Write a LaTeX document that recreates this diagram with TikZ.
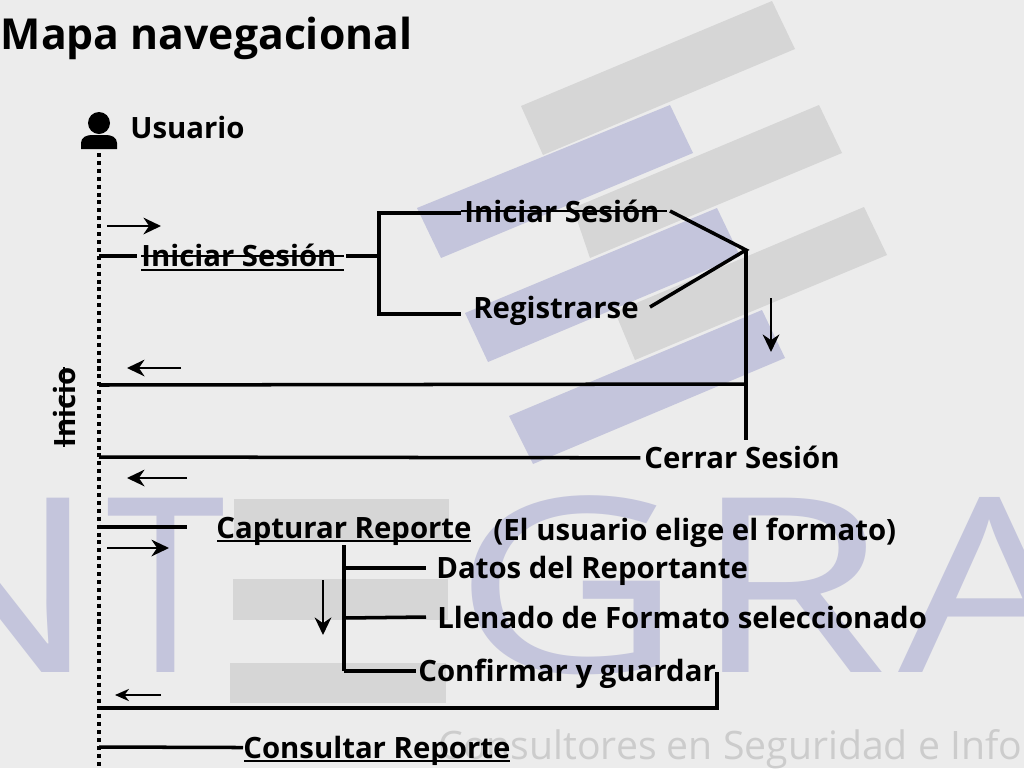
\documentclass[tikz,border=0pt]{standalone}
\usepackage{fontspec}
\setmainfont{Open Sans}
\usepackage{tikz}
\usetikzlibrary{arrows.meta, positioning}

\definecolor{fondo}{HTML}{ECECEC}
\definecolor{barragris}{HTML}{D6D6D6}
\definecolor{barraazul}{HTML}{C4C5DC}
\definecolor{textogris}{HTML}{CCCCCC}

\tikzset{
	linea/.style={line width=2pt},
	fina/.style={line width=1pt},
	flecha/.style={line width=1.2pt, -{Stealth[length=10pt, width=9.5pt]}},
	etiqueta/.style={font=\fontsize{16.7}{20}\selectfont\bfseries, inner sep=0pt, anchor=west, text height=14pt, text depth=2.1pt},
	letra/.style={font=\fontsize{139}{150}\selectfont, text=barraazul, inner sep=0pt, anchor=base, transform shape}
}

\begin{document}
\begin{tikzpicture}[x=0.02cm, y=-0.02cm]
	\useasboundingbox (0,0) rectangle (1024,768);
	\clip (0,0) rectangle (1024,768);
	\fill[fondo] (0,0) rectangle (1024,768);

	% marca de agua
	\fill[barragris] (772,1) -- (795,49) -- (543,155) -- (521,106) -- cycle;
	\fill[barraazul] (670,105) -- (693,153) -- (441,258) -- (417,208) -- cycle;
	\fill[barragris] (819,105) -- (842,153) -- (590,258) -- (573,208) -- cycle;
	\fill[barraazul] (717,208) -- (740,256) -- (488,362) -- (465,313) -- cycle;
	\fill[barragris] (864,207) -- (887,255) -- (635,360) -- (615,312) -- cycle;
	\fill[barraazul] (762,310) -- (785,358) -- (533,464) -- (509,416) -- cycle;

	\node[letra, xscale=1.2] (LetraN) at (-12,672) {N};
	\node[letra, xscale=0.88] (LetraT) at (166,672) {T};
	\fill[barragris] (234,499) rectangle (449,540);
	\fill[barragris] (233,579) rectangle (448,620);
	\fill[barragris] (230,663) rectangle (446,703);
	\node[letra, xscale=1.3] (LetraG) at (568,672) {G};
	\node[letra, xscale=1.3] (LetraR) at (790,672) {R};
	\node[letra, xscale=1.18] (LetraA) at (990,672) {A};
	\node[inner sep=0pt, anchor=base west, text=textogris, font=\fontsize{22.3}{24}\selectfont] (Lema) at (438,759) {Consultores en Seguridad e Info};

	% titulo y actor
	\node[inner sep=0pt, anchor=base west, font=\fontsize{24.3}{30}\selectfont\bfseries] (Titulo) at (0.5,49) {Mapa navegacional};
	\fill (99,123) circle (11);
	\fill (81,149) -- (81,143) .. controls (81,137) and (87,135) .. (92,135) -- (106,135) .. controls (111,135) and (117,137) .. (117,143) -- (117,149) -- cycle;
	\node[etiqueta] (Usuario) at (130,128) {Usuario};
	\coordinate (VidaArriba) at (99,153);
	\coordinate (VidaAbajo) at (99,768);
	\draw[line width=2.3pt, dash pattern=on 2.3pt off 2.2pt] (VidaArriba) -- (VidaAbajo);
	\node[etiqueta, anchor=center, rotate=90] (Inicio) at (65.5,407) {Inicio};
	\draw[fina] (64,367) -- (64,447);

	% iniciar sesion
	\coordinate (Vida1) at (99,256);
	\coordinate (Vida2) at (99,385);
	\coordinate (Vida3) at (99,457);
	\coordinate (Vida4) at (99,527);
	\coordinate (Vida5) at (99,708);
	\coordinate (Vida6) at (99,747);

	\node[etiqueta] (IniciarA) at (141,256) {Iniciar Sesión};
	\node[etiqueta] (IniciarB) at (464,212) {Iniciar Sesión};
	\node[etiqueta] (Registrarse) at (473,308) {Registrarse};
	\node[etiqueta] (Cerrar) at (644,458) {Cerrar Sesión};
	\coordinate (Rama) at (379,256);
	\coordinate (RamaA) at (379,213);
	\coordinate (RamaB) at (379,314);
	\coordinate (Union) at (746,250);
	\coordinate (Baja) at (746,440);
	\coordinate (Cruce) at (746,384);

	\draw[linea] (Vida1) -- (137,256);
	\draw[fina] (IniciarA.west) -- (344,256);
	\draw[fina] (141,270) -- (344,270);
	\draw[linea] (346,256) -- (Rama);
	\draw[linea] (461,213) -- (RamaA) -- (RamaB) -- (461,314);
	\draw[fina] (461,211) -- (667,211);
	\draw[linea] (670,211) -- (Union) -- (650,307);
	\draw[linea] (Union) -- (Baja);
	\draw[linea] (Vida2) -- (Cruce);
	\draw[linea, shorten >=2pt] (Vida3) -- (Cerrar);

	\draw[flecha] (107,226) -- (161,226);
	\draw[flecha] (181,368) -- (127,368);
	\draw[flecha] (771,298) -- (771,352);
	\draw[flecha] (187,478) -- (127,478);

	% capturar reporte
	\node[etiqueta] (Capturar) at (216,528) {Capturar Reporte};
	\node[etiqueta] (Formato) at (493,530) {(El usuario elige el formato)};
	\node[etiqueta] (Datos) at (436,568) {Datos del Reportante};
	\node[etiqueta] (Llenado) at (437,618) {Llenado de Formato seleccionado};
	\node[etiqueta] (Confirmar) at (418,671) {Confirmar y guardar};
	\node[etiqueta] (Consultar) at (243,748) {Consultar Reporte};

	\draw[linea] (Vida4) -- (187,527);
	\draw[fina] (217,541) -- (471,541);
	\draw[linea] (344,545) -- (344,671);
	\draw[linea, shorten >=1pt] (344,671) -- (Confirmar);
	\draw[linea] (344,568) -- (426,568);
	\draw[linea] (344,618) -- (426,617);
	\draw[linea] (717,672) -- (717,708) -- (Vida5);
	\draw[linea] (Vida6) -- (Consultar);
	\draw[fina] (244,761) -- (510,761);

	\draw[flecha] (107,548) -- (169,548);
	\draw[flecha] (323,580) -- (323,635);
	\draw[line width=0.9pt, -{Stealth[length=8pt, width=7pt]}] (161,695) -- (115,695);
\end{tikzpicture}
\end{document}
